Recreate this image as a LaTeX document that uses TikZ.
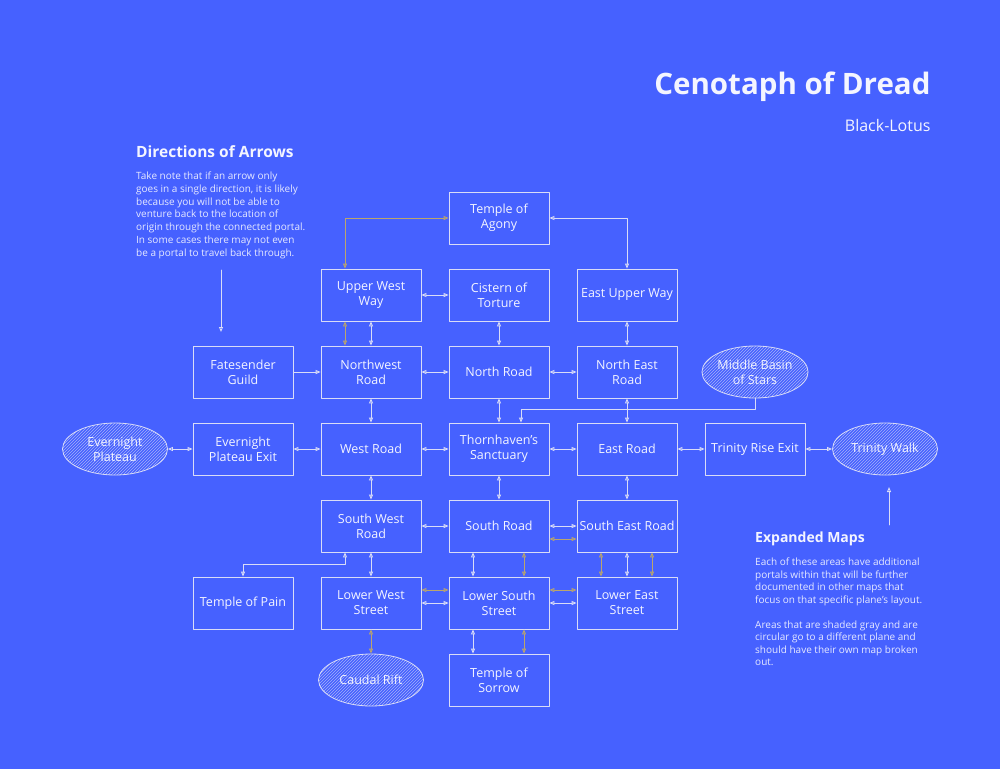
\documentclass[tikz,border=0pt]{standalone}
\usepackage{fontspec}
\setmainfont{Open Sans}
\usepackage{tikz}
\usetikzlibrary{arrows.meta,patterns,positioning,shapes.geometric}
\definecolor{cdBack}{HTML}{4661FF}
\definecolor{cdInk}{HTML}{F4F5FF}
\definecolor{cdLine}{HTML}{D9DCF7}
\definecolor{cdGold}{HTML}{BBA56C}
\tikzset{
  cd diagram/.style={font=\fontsize{12.5}{15}\selectfont, text=cdInk,
    line cap=round, line join=round,
    >={Triangle[open,length=5pt,width=4pt]}},
  cd box/.style={draw=cdLine, line width=0.8pt, minimum width=100pt,
    minimum height=52pt, align=center, inner sep=2pt},
  cd plane/.style={ellipse, draw=cdLine, line width=0.8pt, minimum width=105pt,
    minimum height=52pt, align=center, inner sep=0pt,
    pattern=north east lines, pattern color=cdLine!65!cdBack},
  cd link/.style={<->, draw=cdLine, line width=0.9pt},
  cd gold/.style={cd link, draw=cdGold},
  cd oneway/.style={->, draw=cdLine, line width=0.9pt},
  cd head/.style={font=\bfseries\fontsize{14}{16}\selectfont, anchor=west, inner sep=0pt},
  cd note/.style={font=\fontsize{10}{12.7}\selectfont, text=cdInk!92!cdBack,
    anchor=north west, align=left, inner sep=0pt}
}
\begin{document}
\begin{tikzpicture}[cd diagram,x=1pt,y=-1pt]
\fill[cdBack] (0,0) rectangle (1000,769);
\useasboundingbox (0,0) rectangle (1000,769);
% title
\node[font=\bfseries\fontsize{29.5}{32}\selectfont, anchor=east] (title) at (934,87) {Cenotaph of Dread};
\node[font=\fontsize{16}{18}\selectfont, anchor=east] (author) at (934,125) {Black-Lotus};
% rooms
\foreach \name/\x/\y/\txt in {
  agony/499/218/{Temple of\\Agony}, uww/371/295/{Upper West\\Way},
  cistern/499/295/{Cistern of\\Torture}, euw/627/295/{East Upper Way},
  fate/243/372/{Fatesender\\Guild}, nwr/371/372/{Northwest\\Road},
  north/499/372/{North Road}, ner/627/372/{North East\\Road},
  evx/243/449/{Evernight\\Plateau Exit}, west/371/449/{West Road},
  thorn/499/449/{Thornhaven's\\Sanctuary}, east/627/449/{East Road},
  trx/755/449/{Trinity Rise Exit}, swr/371/526/{South West\\Road},
  south/499/526/{South Road}, ser/627/526/{South East Road},
  pain/243/603/{Temple of Pain}, lws/371/603/{Lower West\\Street},
  lss/499/603/{Lower South\\Street}, les/627/603/{Lower East\\Street},
  sorrow/499/680/{Temple of\\Sorrow}}{
 \node[cd box] (\name) at (\x,\y) {\txt};
}
% other planes
\foreach \name/\x/\y/\txt in {
  evp/115/449/{Evernight\\Plateau}, basin/755/372/{Middle Basin\\of Stars},
  trw/885/449/{Trinity Walk}, caudal/371/680/{Caudal Rift}}{
 \node[cd plane] (\name) at (\x,\y) {\txt};
}
% two-way portals
\foreach \a/\b in {uww/cistern, cistern/north, euw/ner, uww/nwr, nwr/north,
  north/ner, nwr/west, north/thorn, ner/east, evp/evx, evx/west, west/thorn,
  thorn/east, east/trx, trx/trw, west/swr, thorn/south, east/ser, swr/south,
  south/ser, swr/lws, ser/les, lws/lss, lss/les}{
 \draw[cd link] (\a) -- (\b);
}
\draw[cd link] (agony.east) -| (euw.north);
\draw[cd link] ([xshift=-26pt]south.south) -- ([xshift=-26pt]lss.north);
\draw[cd link] ([xshift=-26pt]lss.south) -- ([xshift=-26pt]sorrow.north);
\draw[cd link] ([xshift=-26pt]swr.south) -- ++(0,12) -| (pain.north);
% gold portals
\draw[cd gold] (agony.west) -| ([xshift=-26pt]uww.north);
\draw[cd gold] ([xshift=-26pt]uww.south) -- ([xshift=-26pt]nwr.north);
\draw[cd gold] ([yshift=-13pt]south.east) -- ([yshift=-13pt]ser.west);
\draw[cd gold] ([xshift=25pt]south.south) -- ([xshift=25pt]lss.north);
\draw[cd gold] ([xshift=-26pt]ser.south) -- ([xshift=-26pt]les.north);
\draw[cd gold] ([xshift=25pt]ser.south) -- ([xshift=25pt]les.north);
\draw[cd gold] ([yshift=13pt]lws.east) -- ([yshift=13pt]lss.west);
\draw[cd gold] ([yshift=13pt]lss.east) -- ([yshift=13pt]les.west);
\draw[cd gold] (lws) -- (caudal);
\draw[cd gold] ([xshift=25pt]lss.south) -- ([xshift=25pt]sorrow.north);
% one-way portals
\draw[cd oneway] (fate) -- (nwr);
\draw[cd oneway] (basin.south) -- ++(0,11) -| ([xshift=22pt]thorn.north);
% notes
\node[cd head, font=\bfseries\fontsize{15.5}{17}\selectfont] (arrows head) at (136,152) {Directions of Arrows};
\node[cd note] (arrows text) at (136,172) {Take note that if an arrow only\\
 goes in a single direction, it is likely\\ because you will not be able to\\
 venture back to the location of\\ origin through the connected portal.\\
 In some cases there may not even\\ be a portal to travel back through.};
\coordinate (arrows from) at (221,270);
\coordinate (arrows to) at (221,332);
\draw[cd oneway] (arrows from) -- (arrows to);
\node[cd head] (maps head) at (755,539) {Expanded Maps};
\node[cd note, font=\fontsize{10}{12.5}\selectfont] (maps text) at (755,558) {Each of these areas have additional\\
 portals within that will be further\\ documented in other maps that\\
 focus on that specific plane's layout.\\[12.5pt] Areas that are shaded gray and are\\
 circular go to a different plane and\\ should have their own map broken\\ out.};
\coordinate (maps from) at (889,525);
\coordinate (maps to) at (889,487);
\draw[cd oneway] (maps from) -- (maps to);
\end{tikzpicture}
\end{document}
